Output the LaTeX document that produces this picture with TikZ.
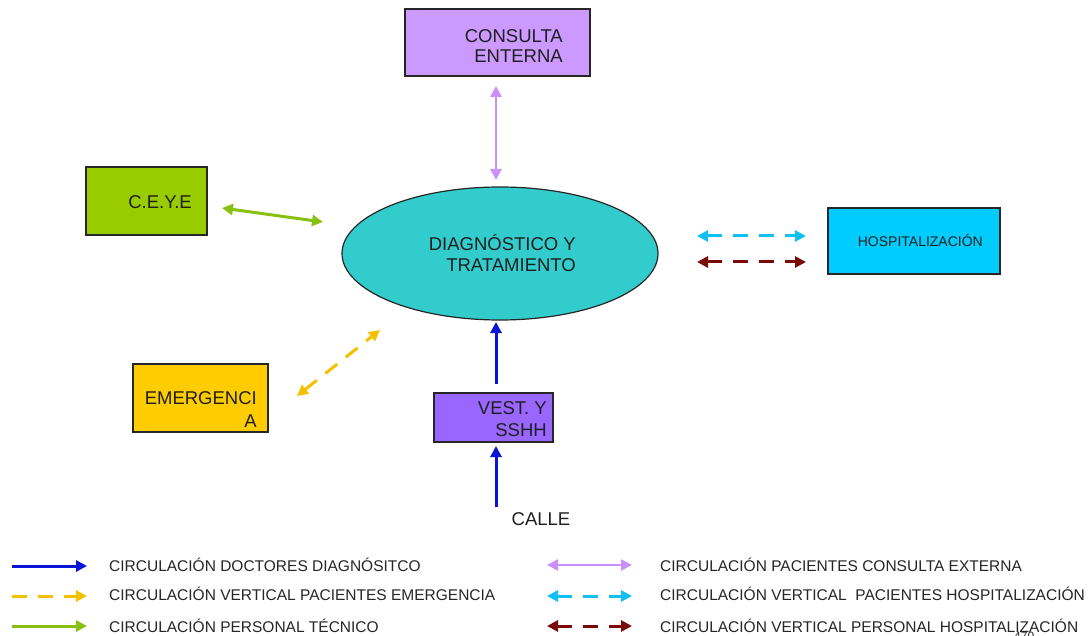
\documentclass[tikz,border=0pt]{standalone}
\usepackage{fontspec}
\setmainfont{Liberation Sans}
\usetikzlibrary{arrows.meta,shapes.geometric}
\definecolor{cpurple}{HTML}{CC99FF}
\definecolor{cgreen}{HTML}{99CC00}
\definecolor{ccyan}{HTML}{00CCFF}
\definecolor{cyellow}{HTML}{FFCC00}
\definecolor{cviolet}{HTML}{9966FF}
\definecolor{cteal}{HTML}{33CCCC}
\definecolor{aviolet}{HTML}{CC8FFF}
\definecolor{agreen}{HTML}{88C010}
\definecolor{acyan}{HTML}{10C0F0}
\definecolor{amaroon}{HTML}{7A0A0A}
\definecolor{ayellow}{HTML}{F5C000}
\definecolor{ablue}{HTML}{0A14D8}
\tikzset{
  box/.style={draw=black!85, line width=1.2pt, inner sep=0pt},
  lbl/.style={font=\fontsize{18.5}{21.5}\selectfont, text=black!88, inner sep=0pt},
  leg/.style={font=\fontsize{15.5}{17}\selectfont, text=black!85, anchor=west, inner sep=0pt},
  arr/.style={line width=3pt, -{Triangle[length=11pt,width=11pt]}},
  darr/.style={line width=3pt, {Triangle[length=11pt,width=11pt]}-{Triangle[length=11pt,width=11pt]}},
  dsh/.style={dash pattern=on 15pt off 11pt},
}
\begin{document}
\begin{tikzpicture}[x=1pt,y=-1pt]
\useasboundingbox (0,0) rectangle (1092,636);
% boxes
\node[box, fill=cpurple, minimum width=185pt, minimum height=67pt] (ce) at (497.5,42.5) {};
\node[lbl, font=\fontsize{18.5}{19.5}\selectfont, align=right, anchor=east] (cet) at (563,46) {CONSULTA\\ENTERNA};
\node[box, fill=cgreen, minimum width=121pt, minimum height=68pt] (ceye) at (146.5,201) {};
\node[lbl, anchor=east] (ceyet) at (192,202) {C.E.Y.E};
\node[box, fill=ccyan, minimum width=172pt, minimum height=66pt] (hosp) at (914,241) {};
\node[lbl, font=\fontsize{14}{16}\selectfont, anchor=east] (hospt) at (983,240) {HOSPITALIZACIÓN};
\node[box, fill=cyellow, minimum width=135pt, minimum height=68pt] (emer) at (200.5,398) {};
\node[lbl, font=\fontsize{18.5}{23}\selectfont, align=right, anchor=east] (emert) at (257,410) {EMERGENCI\\A};
\node[box, fill=cviolet, minimum width=119pt, minimum height=49pt] (vest) at (493.5,417.5) {};
\node[lbl, align=right, anchor=east] (vestt) at (547,419) {VEST. Y\\SSHH};
\node[ellipse, draw=black!85, line width=1.2pt, fill=cteal, minimum width=316pt, minimum height=133pt] (diag) at (500,253.5) {};
\node[lbl, align=right, anchor=east] (diagt) at (576,253) {DIAGNÓSTICO Y\\TRATAMIENTO};
\node[lbl] (calle) at (541,519) {CALLE};
% arrow endpoints
\coordinate (p1) at (496,86); \coordinate (p2) at (496,180);
\coordinate (g1) at (222,208); \coordinate (g2) at (323,222);
\coordinate (c1) at (697,236); \coordinate (c2) at (806,236);
\coordinate (m1) at (697,262); \coordinate (m2) at (806,262);
\coordinate (y1) at (297,396); \coordinate (y2) at (380,330);
\coordinate (b1) at (496,384); \coordinate (b2) at (496,322);
\coordinate (b3) at (496,507); \coordinate (b4) at (496,446);
\draw[darr, aviolet, line width=2.5pt] (p1) -- (p2);
\draw[darr, agreen] (g1) -- (g2);
\draw[darr, acyan, dsh] (c1) -- (c2);
\draw[darr, amaroon, dsh] (m1) -- (m2);
\draw[darr, ayellow, dsh] (y1) -- (y2);
\draw[arr, ablue] (b1) -- (b2);
\draw[arr, ablue] (b3) -- (b4);
% legend
\coordinate (l1a) at (12,566); \coordinate (l1b) at (87,566);
\coordinate (l2a) at (12,596); \coordinate (l2b) at (87,596);
\coordinate (l3a) at (12,626); \coordinate (l3b) at (87,626);
\coordinate (r1a) at (547,565); \coordinate (r1b) at (632,565);
\coordinate (r2a) at (547,596); \coordinate (r2b) at (632,596);
\coordinate (r3a) at (547,626); \coordinate (r3b) at (632,626);
\draw[arr, ablue] (l1a) -- (l1b);
\draw[arr, ayellow, dsh] (l2a) -- (l2b);
\draw[arr, agreen] (l3a) -- (l3b);
\draw[darr, aviolet, line width=2.5pt] (r1a) -- (r1b);
\draw[darr, acyan, dsh] (r2a) -- (r2b);
\draw[darr, amaroon, dsh] (r3a) -- (r3b);
\node[leg] (t1) at (109,565) {CIRCULACIÓN DOCTORES DIAGNÓSITCO};
\node[leg] (t2) at (109,594) {CIRCULACIÓN VERTICAL PACIENTES EMERGENCIA};
\node[leg] (t3) at (109,626) {CIRCULACIÓN PERSONAL TÉCNICO};
\node[leg] (t4) at (660,565) {CIRCULACIÓN PACIENTES CONSULTA EXTERNA};
\node[leg] (t5) at (660,594) {CIRCULACIÓN VERTICAL\ \ PACIENTES HOSPITALIZACIÓN};
\node[leg] (t6) at (660,626) {CIRCULACIÓN VERTICAL PERSONAL HOSPITALIZACIÓN};
\node[leg, font=\fontsize{12}{14}\selectfont, anchor=north west] (pg) at (1014,632) {470};
\end{tikzpicture}
\end{document}
